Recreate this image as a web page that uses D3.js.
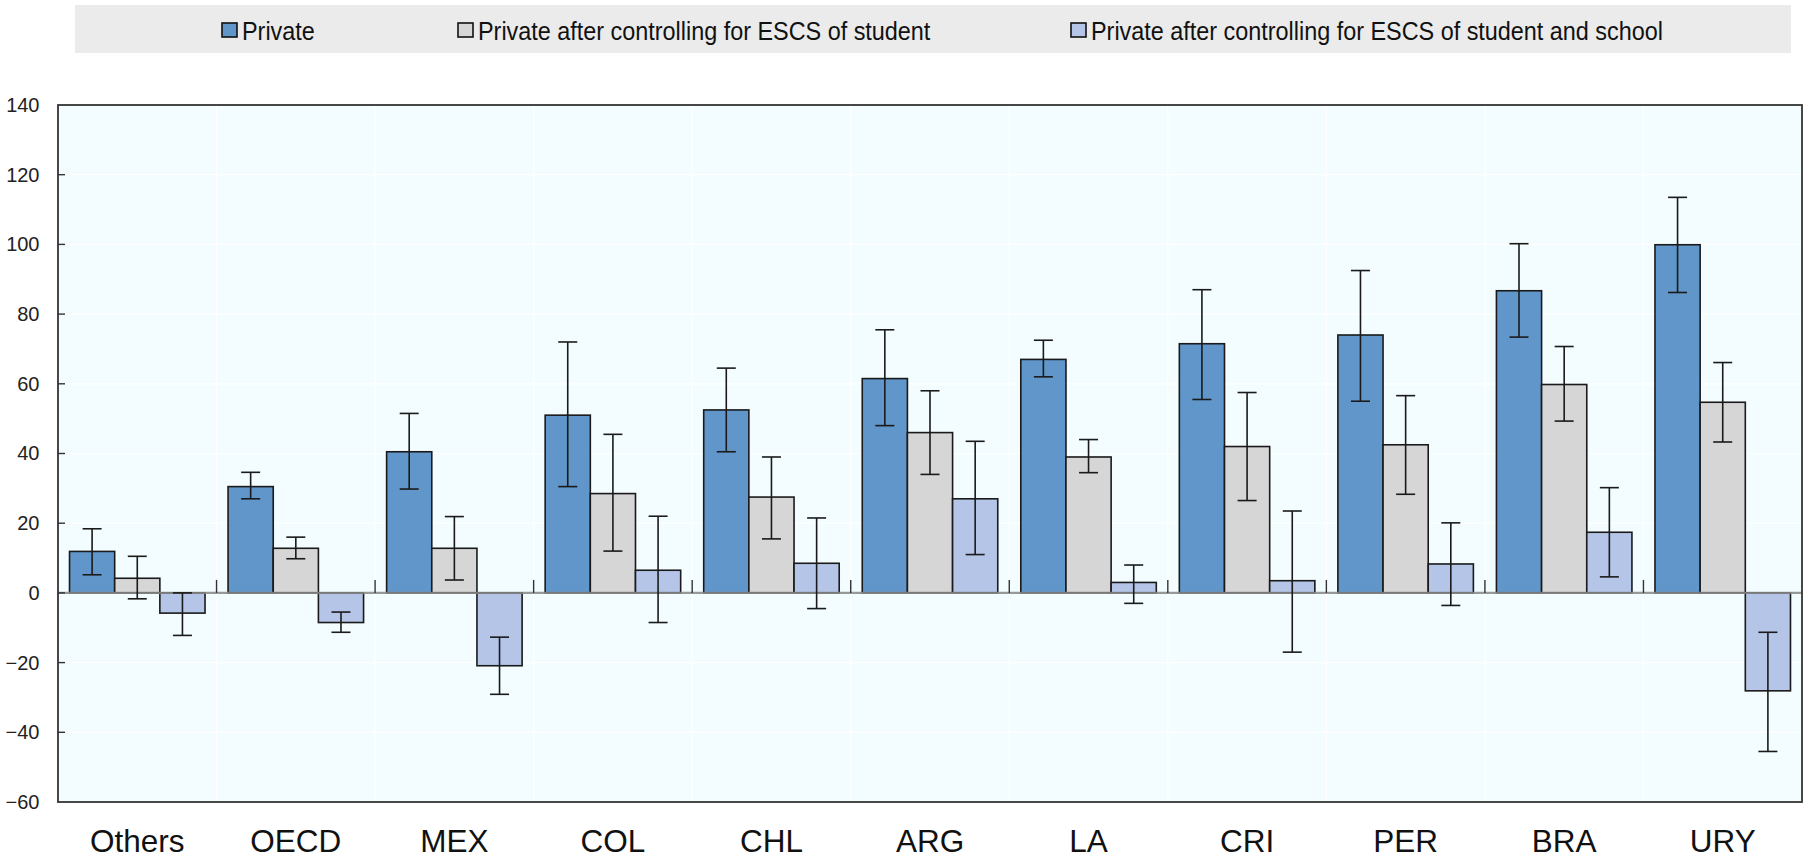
<!DOCTYPE html>
<html>
<head>
<meta charset="utf-8">
<script src="https://cdn.jsdelivr.net/npm/d3@7"></script>
<style>
  html, body { margin: 0; padding: 0; background: #ffffff; }
  svg { display: block; }
  text { font-family: "Liberation Sans", Arial, sans-serif; }
</style>
</head>
<body>
<svg id="chart" width="1808" height="859"></svg>
<script>
const categories = ["Others", "OECD", "MEX", "COL", "CHL", "ARG", "LA", "CRI", "PER", "BRA", "URY"];
const seriesNames = ["Private", "Private after controlling for ESCS of student", "Private after controlling for ESCS of student and school"];
const seriesColors = ["#6096C9", "#D6D6D6", "#B4C5E8"];

const privateVals = [11.9, 30.5, 40.5, 51, 52.5, 61.5, 67, 71.5, 74, 86.7, 99.9];
const privateLow  = [5.2, 27.0, 29.8, 30.5, 40.5, 48, 62, 55.5, 55, 73.4, 86.2];
const privateHigh = [18.4, 34.6, 51.5, 72, 64.5, 75.5, 72.5, 87, 92.5, 100.2, 113.5];

const studentVals = [4.2, 12.8, 12.8, 28.5, 27.5, 46, 39, 42, 42.5, 59.8, 54.7];
const studentLow  = [-1.7, 9.8, 3.7, 12, 15.5, 34, 34.5, 26.5, 28.3, 49.3, 43.3];
const studentHigh = [10.5, 16.0, 21.9, 45.5, 39, 58, 44, 57.5, 56.6, 70.7, 66.1];

const schoolVals = [-5.8, -8.5, -20.9, 6.5, 8.5, 27, 3, 3.5, 8.3, 17.4, -28.1];
const schoolLow  = [-12.2, -11.3, -29.1, -8.5, -4.5, 11, -3, -17, -3.6, 4.6, -45.5];
const schoolHigh = [0, -5.5, -12.7, 22, 21.5, 43.5, 8, 23.5, 20.1, 30.2, -11.3];

const yTicks = [-60, -40, -20, 0, 20, 40, 60, 80, 100, 120, 140];

const series = [
  {vals: privateVals, low: privateLow, high: privateHigh},
  {vals: studentVals, low: studentLow, high: studentHigh},
  {vals: schoolVals, low: schoolLow, high: schoolHigh}
];

const svg = d3.select("#chart");
const plot = {left: 58, right: 1802, top: 105, bottom: 802};

const x = d3.scaleBand().domain(categories).range([plot.left, plot.right]).paddingInner(0).paddingOuter(0);
const x1 = d3.scaleBand().domain([0, 1, 2]).range([0, x.bandwidth()]).paddingOuter(0.255).paddingInner(0);
const y = d3.scaleLinear().domain([-60, 140]).range([plot.bottom, plot.top]);

// Legend
svg.append("rect").attr("x", 75).attr("y", 5).attr("width", 1716).attr("height", 48).attr("fill", "#EBEBEB");
const legendX = [221, 457, 1070];
seriesNames.forEach((name, i) => {
  const g = svg.append("g").attr("transform", `translate(${legendX[i]},0)`);
  g.append("rect").attr("x", 1).attr("y", 23).attr("width", 15).attr("height", 14)
    .attr("fill", seriesColors[i]).attr("stroke", "#111").attr("stroke-width", 1.6);
  g.append("text").attr("transform", "translate(21,39.5) scale(0.9,1)")
    .attr("font-size", 26).attr("fill", "#111").text(name);
});

// plot background
svg.append("rect").attr("x", plot.left).attr("y", plot.top)
  .attr("width", plot.right - plot.left).attr("height", plot.bottom - plot.top).attr("fill", "#F3FDFF");

// gridlines
svg.append("g").selectAll("line").data(yTicks.filter(t => t !== 0 && t !== 140 && t !== -60)).join("line")
  .attr("x1", plot.left).attr("x2", plot.right).attr("y1", d => y(d)).attr("y2", d => y(d))
  .attr("stroke", "#ffffff").attr("stroke-width", 1.2);
svg.append("g").selectAll("line").data(categories.slice(1)).join("line")
  .attr("x1", d => x(d)).attr("x2", d => x(d)).attr("y1", plot.top).attr("y2", plot.bottom)
  .attr("stroke", "#ffffff").attr("stroke-width", 1.2);

// bars
series.forEach((s, si) => {
  svg.append("g").selectAll("rect").data(categories).join("rect")
    .attr("x", c => x(c) + x1(si))
    .attr("width", x1.bandwidth())
    .attr("y", (c, i) => y(Math.max(0, s.vals[i])))
    .attr("height", (c, i) => Math.abs(y(s.vals[i]) - y(0)))
    .attr("fill", seriesColors[si]).attr("stroke", "#1a1a1a").attr("stroke-width", 1.6);
});

// zero line
svg.append("line").attr("x1", plot.left).attr("x2", plot.right).attr("y1", y(0)).attr("y2", y(0))
  .attr("stroke", "#888888").attr("stroke-width", 2.2).attr("opacity", 0.85);

// category separator ticks on zero line
svg.append("g").selectAll("line").data(categories.slice(1)).join("line")
  .attr("x1", d => x(d)).attr("x2", d => x(d)).attr("y1", y(0) - 13).attr("y2", y(0))
  .attr("stroke", "#333").attr("stroke-width", 1.4);

// error bars
series.forEach((s, si) => {
  const g = svg.append("g");
  categories.forEach((c, i) => {
    const cx = x(c) + x1(si) + x1.bandwidth() / 2;
    g.append("line").attr("x1", cx).attr("x2", cx).attr("y1", y(s.low[i])).attr("y2", y(s.high[i]))
      .attr("stroke", "#1a1a1a").attr("stroke-width", 1.6);
    [s.low[i], s.high[i]].forEach(v => {
      g.append("line").attr("x1", cx - 9.5).attr("x2", cx + 9.5).attr("y1", y(v)).attr("y2", y(v))
        .attr("stroke", "#1a1a1a").attr("stroke-width", 1.6);
    });
  });
});

// border
svg.append("rect").attr("x", plot.left).attr("y", plot.top)
  .attr("width", plot.right - plot.left).attr("height", plot.bottom - plot.top)
  .attr("fill", "none").attr("stroke", "#333").attr("stroke-width", 1.8);

// y axis
const yAxis = d3.axisLeft(y).tickValues(yTicks).tickSize(0).tickPadding(0);
const ya = svg.append("g").attr("transform", `translate(${plot.left},0)`).call(yAxis);
ya.select(".domain").remove();
ya.selectAll("text").attr("x", -18.5).attr("font-size", 20).attr("fill", "#222")
  .style("font-family", '"Liberation Sans", Arial, sans-serif');
// inward ticks
svg.append("g").selectAll("line").data(yTicks.filter(t => t !== 140 && t !== -60)).join("line")
  .attr("x1", plot.left).attr("x2", plot.left + 7).attr("y1", d => y(d)).attr("y2", d => y(d))
  .attr("stroke", "#333").attr("stroke-width", 1.4);

// x axis labels
const xAxis = d3.axisBottom(x).tickSize(0).tickPadding(0);
const xa = svg.append("g").attr("transform", `translate(0,${plot.bottom})`).call(xAxis);
xa.select(".domain").remove();
xa.selectAll("text").attr("y", 0).attr("dy", 0)
  .attr("transform", "translate(0,49.5)")
  .attr("font-size", 31.5).attr("fill", "#111")
  .style("font-family", '"Liberation Sans", Arial, sans-serif');
</script>
</body>
</html>
